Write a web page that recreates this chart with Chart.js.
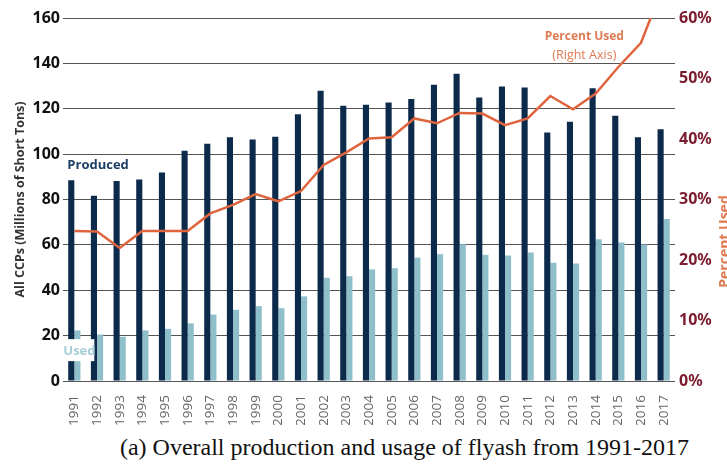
<!DOCTYPE html>
<html>
<head>
<meta charset="utf-8">
<script src="https://cdn.jsdelivr.net/npm/chart.js@4.4.1/dist/chart.umd.min.js"></script>
<style>
  html, body { margin: 0; padding: 0; background: #fff; width: 727px; height: 466px; overflow: hidden; position: relative; }
  #wrap { position: relative; width: 727px; height: 425px; }
  #caption { position: absolute; left: 41px; top: 427px; width: 727px; text-align: center; white-space: nowrap;
    font-family: "Liberation Serif", "Times New Roman", serif; font-size: 24px; color: #111; line-height: 40px; }
</style>
</head>
<body>
<div id="wrap"><canvas id="c" width="727" height="425"></canvas></div>
<div id="caption">(a) Overall production and usage of flyash from 1991-2017</div>
<script>
const years = ["1991","1992","1993","1994","1995","1996","1997","1998","1999","2000","2001","2002","2003","2004","2005","2006","2007","2008","2009","2010","2011","2012","2013","2014","2015","2016","2017"];
const produced = [88.5,81.7,88.2,88.8,91.9,101.5,104.6,107.4,106.5,107.7,117.6,127.9,121.3,121.8,122.8,124.3,130.6,135.4,125.0,129.8,129.4,109.5,114.3,129.0,116.9,107.4,111.0];
const used = [22.3,20.5,19.5,22.3,23.0,25.4,29.3,31.4,33.0,32.1,37.3,45.5,46.2,49.2,49.7,54.4,55.9,60.3,55.6,55.3,56.6,52.1,51.8,62.5,61.0,60.2,71.4];
const percentUsed = [24.8,24.7,22.0,24.8,24.8,24.8,27.7,29.1,30.9,29.7,31.4,35.7,37.8,40.1,40.3,43.4,42.6,44.3,44.2,42.3,43.4,47.1,44.9,47.5,51.9,55.9,65.5];
const leftTicks = [0,20,40,60,80,100,120,140,160];
const rightTicks = [0,10,20,30,40,50,60];

const NAVY = '#0c2a4a';
const LIGHT = '#8ebfcb';
const ORANGE = '#e0653f';

const annotations = {
  id: 'annotations',
  afterDatasetsDraw(chart) {
    const ctx = chart.ctx;
    const x = chart.scales.x, y = chart.scales.y;
    ctx.save();
    // Produced label
    ctx.font = 'bold 13px "Open Sans", "Noto Sans", sans-serif';
    ctx.fillStyle = '#1d3f66';
    ctx.textAlign = 'left';
    ctx.textBaseline = 'middle';
    ctx.fillText('Produced', x.getPixelForValue(0) - 7, y.getPixelForValue(95));
    // Used label with white box
    const ux = x.getPixelForValue(0) - 11, uy = y.getPixelForValue(13.6);
    ctx.fillStyle = '#ffffff';
    ctx.fillRect(ux, uy - 11, 31, 22);
    ctx.font = 'bold 13px "Open Sans", "Noto Sans", sans-serif';
    ctx.fillStyle = '#a6ced8';
    ctx.fillText('Used', ux, uy + 1);
    // Percent Used annotation
    const px = (x.getPixelForValue(22) + x.getPixelForValue(23)) / 2;
    ctx.textAlign = 'center';
    ctx.fillStyle = '#e07a52';
    ctx.font = 'bold 12px "Open Sans", "Noto Sans", sans-serif';
    ctx.fillText('Percent Used', px, y.getPixelForValue(152));
    ctx.font = '12.5px "Open Sans", "Noto Sans", sans-serif';
    ctx.fillText('(Right Axis)', px, y.getPixelForValue(143.5));
    // Right axis title, rotated, partially cut off by the page edge
    const y1 = chart.scales.y1;
    ctx.translate(724.5, (y1.top + y1.bottom) / 2 + 42);
    ctx.rotate(-Math.PI / 2);
    ctx.font = 'bold 14px "Open Sans", "Noto Sans", sans-serif';
    ctx.fillStyle = '#e07a52';
    ctx.textAlign = 'center';
    ctx.textBaseline = 'top';
    ctx.fillText('Percent Used', 0, -6);
    ctx.restore();
  }
};

new Chart(document.getElementById('c'), {
  data: {
    labels: years,
    datasets: [
      { type: 'line', label: 'Percent Used', data: percentUsed, yAxisID: 'y1',
        borderColor: ORANGE, borderWidth: 2.5, pointRadius: 0, tension: 0, order: 0 },
      { type: 'bar', label: 'Produced', data: produced, yAxisID: 'y',
        backgroundColor: NAVY, categoryPercentage: 0.54, barPercentage: 1.0, order: 1 },
      { type: 'bar', label: 'Used', data: used, yAxisID: 'y',
        backgroundColor: LIGHT, categoryPercentage: 0.54, barPercentage: 1.0, order: 1 }
    ]
  },
  options: {
    responsive: false,
    animation: false,
    layout: { padding: { top: 18, left: 0, right: 0, bottom: 0 } },
    plugins: { legend: { display: false }, tooltip: { enabled: false } },
    scales: {
      x: {
        grid: { display: false },
        border: { display: false },
        ticks: { color: '#666', font: { family: '"Open Sans", "Noto Sans", sans-serif', size: 13.5 },
                 minRotation: 90, maxRotation: 90, padding: 6, autoSkip: false },
        afterFit(s) { s.height = 44; }
      },
      y: {
        position: 'left', min: 0, max: 160,
        afterBuildTicks(s) { s.ticks = leftTicks.map(v => ({ value: v })); },
        grid: { color: '#555', lineWidth: 1, drawTicks: false },
        border: { display: false },
        ticks: { color: '#111', font: { family: '"Noto Sans", sans-serif', size: 16, weight: 'bold' }, padding: 3 },
        title: { display: true, text: 'All CCPs (Millions of Short Tons)', color: '#333',
                 font: { family: '"Open Sans", "Noto Sans", sans-serif', size: 12.5, weight: 'bold' }, padding: { top: 13, bottom: 0 } },
        afterFit(s) { s.width = 63; }
      },
      y1: {
        position: 'right', min: 0, max: 60,
        afterBuildTicks(s) { s.ticks = rightTicks.map(v => ({ value: v })); },
        grid: { display: false, drawTicks: false },
        border: { display: false },
        ticks: { color: '#7a1b2e', font: { family: '"Noto Sans", sans-serif', size: 16, weight: 'bold' }, padding: 4,
                 callback: v => v + '%' },
        afterFit(s) { s.width = 52; }
      }
    }
  },
  plugins: [annotations]
});
</script>
</body>
</html>
